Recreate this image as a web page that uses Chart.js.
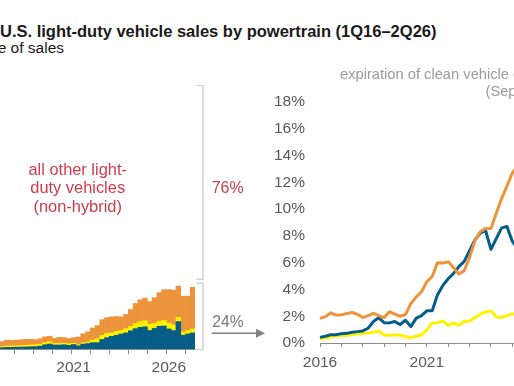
<!DOCTYPE html>
<html>
<head>
<meta charset="utf-8">
<script src="https://cdn.jsdelivr.net/npm/chart.js@4/dist/chart.umd.min.js"></script>
<style>
  html, body { margin:0; padding:0; background:#fff; }
  body { width:514px; height:386px; overflow:hidden; position:relative; font-family:"Liberation Sans", Arial, sans-serif; }
  canvas { position:absolute; }
  .t { position:absolute; white-space:nowrap; line-height:1; }
</style>
</head>
<body>
<canvas id="left" width="280" height="294" style="left:-5px;top:85px;width:280px;height:294px"></canvas>
<canvas id="right" width="279" height="283" style="left:260px;top:90px;width:279px;height:283px"></canvas>

<div class="t" style="left:0;top:22.7px;font-size:16.5px;font-weight:bold;color:#1a1a1a">U.S. light-duty vehicle sales by powertrain (1Q16–2Q26)</div>
<div class="t" style="right:450px;top:39.6px;font-size:15.5px;color:#1a1a1a">share of sales</div>
<div class="t" style="left:340px;top:66.6px;font-size:14.7px;color:#9a9a9a">expiration of clean vehicle credits</div>
<div class="t" style="left:485.5px;top:84.3px;font-size:14.7px;color:#9a9a9a">(September 30, 2025)</div>

<script>
// ---- data (quarterly, 1Q16 .. 2Q26) ----
const quarters = [];
for (let yr = 2016; yr <= 2026; yr++) for (let q = 1; q <= 4; q++) {
  if (yr === 2026 && q > 2) break;
  quarters.push(q + 'Q' + String(yr).slice(2));
}
// battery electric vehicles (%)
const bev = [0.42,0.5,0.62,0.62,0.7,0.72,0.8,0.85,0.9,1.1,1.6,1.88,1.52,1.5,1.6,1.38,1.7,1.22,1.84,2.05,
             2.4,2.4,3.6,4.3,4.8,5.2,5.7,6.1,6.9,7.7,8.2,8.4,7.0,7.8,8.6,8.7,7.6,7.0,10.4,5.2,5.7,6.1];
// plug-in hybrid electric vehicles (%)
const phev = [0.32,0.37,0.45,0.55,0.55,0.58,0.62,0.67,0.72,0.75,0.8,0.9,0.6,0.57,0.6,0.6,0.48,0.4,0.5,0.62,
              0.97,1.5,1.52,1.65,1.3,1.5,1.32,1.6,1.65,1.9,2.15,2.33,2.4,1.95,1.92,2.05,2.18,2.1,1.6,1.2,1.3,1.5];
// hybrid electric vehicles (%)
const hev = [1.84,1.97,2.25,2.09,2.1,2.2,2.28,2.15,1.9,2.05,2.22,2.05,1.9,2.34,2.15,2.0,2.12,2.93,3.43,3.83,
             4.58,4.97,6.0,5.97,6.07,5.62,5.15,5.4,6.4,7.64,8.31,8.56,8.56,9.69,10.8,11.72,12.7,13.2,11.8,13.6,13.0,15.8];
// latest-quarter split shown by the brackets
const otherShare = 76;
const hybridShare = 24;
const rightTicks = [0,2,4,6,8,10,12,14,16,18];

const BLUE = '#065d87', YELLOW = '#fff200', ORANGE = '#ec943c';
const TICK_COLOR = '#595959', AXIS_COLOR = '#8c8c8c';
Chart.defaults.font.family = '"Liberation Sans", Arial, sans-serif';
Chart.defaults.animation = false;

const leftNotes = {
  id: 'leftNotes',
  afterDraw(chart) {
    const {ctx, chartArea: a, scales: {y}} = chart;
    const y0 = y.getPixelForValue(0), yh = y.getPixelForValue(hybridShare), yt = y.getPixelForValue(100);
    const bx = a.right + 8;
    ctx.save();
    ctx.strokeStyle = '#d2d2d2'; ctx.lineWidth = 1.5;
    ctx.beginPath();
    ctx.moveTo(bx - 6.5, yt + 0.5); ctx.lineTo(bx, yt + 0.5); ctx.lineTo(bx, yh - 6.5); ctx.lineTo(bx - 6.5, yh - 6.5);
    ctx.stroke();
    ctx.beginPath();
    ctx.moveTo(bx - 6.5, yh - 2.5); ctx.lineTo(bx, yh - 2.5); ctx.lineTo(bx, y0 + 0.5); ctx.lineTo(bx - 6.5, y0 + 0.5);
    ctx.stroke();
    ctx.textAlign = 'center'; ctx.textBaseline = 'alphabetic';
    ctx.fillStyle = '#cd3c4b';
    ctx.font = '16px "Liberation Sans", Arial, sans-serif';
    const mid = (yt + yh) / 2;
    ctx.fillText(otherShare + '%', bx + 24.7, mid + 8);
    ctx.font = '16.4px "Liberation Sans", Arial, sans-serif';
    const cx = a.left + 82.7;
    ctx.fillText('all other light-', cx, mid + 8 - 18.3);
    ctx.fillText('duty vehicles', cx, mid + 8);
    ctx.fillText('(non-hybrid)', cx, mid + 8 + 18.3);
    ctx.fillStyle = '#7a7a7a';
    ctx.font = '15.7px "Liberation Sans", Arial, sans-serif';
    ctx.fillText(hybridShare + '%', bx + 25, (yh + y0) / 2 + 10);
    const ay = (yh + y0) / 2 + 16;
    ctx.strokeStyle = '#808080'; ctx.lineWidth = 1.5;
    ctx.beginPath(); ctx.moveTo(bx + 8.7, ay); ctx.lineTo(bx + 55, ay); ctx.stroke();
    ctx.fillStyle = '#808080';
    ctx.beginPath(); ctx.moveTo(bx + 62, ay); ctx.lineTo(bx + 53, ay - 4.5); ctx.lineTo(bx + 53, ay + 4.5); ctx.closePath(); ctx.fill();
    ctx.restore();
  }
};

new Chart(document.getElementById('left'), {
  type: 'bar',
  data: {
    labels: quarters,
    datasets: [
      {label: 'BEV', data: bev, backgroundColor: BLUE},
      {label: 'PHEV', data: phev, backgroundColor: YELLOW},
      {label: 'HEV', data: hev, backgroundColor: ORANGE}
    ]
  },
  options: {
    responsive: false, maintainAspectRatio: false,
    layout: {padding: {top: 0, left: 0, right: 80, bottom: 0}},
    datasets: {bar: {barPercentage: 1, categoryPercentage: 1, borderWidth: 0}},
    plugins: {legend: {display: false}, tooltip: {enabled: false}},
    scales: {
      x: {
        stacked: true,
        grid: {display: true, drawOnChartArea: false, offset: true, tickLength: 5,
               color: c => (c.index % 4 === 0 && c.index > 0 && c.index < quarters.length) ? AXIS_COLOR : 'rgba(0,0,0,0)'},
        border: {display: true, color: AXIS_COLOR, width: 1},
        ticks: {autoSkip: false, maxRotation: 0, minRotation: 0, padding: 4.5, color: TICK_COLOR, font: {size: 15.5},
                callback: (v, i) => (i % 20 === 16) ? String(2017 + Math.floor(i / 4)) : ''},
        afterFit: s => { s.height = 30; s.paddingLeft = 0; s.paddingRight = 0; }
      },
      y: {stacked: true, display: false, min: 0, max: 100}
    }
  },
  plugins: [leftNotes]
});

new Chart(document.getElementById('right'), {
  type: 'line',
  data: {
    labels: quarters,
    datasets: [
      {label: 'HEV', data: hev, borderColor: ORANGE},
      {label: 'BEV', data: bev, borderColor: BLUE},
      {label: 'PHEV', data: phev, borderColor: YELLOW}
    ]
  },
  options: {
    responsive: false, maintainAspectRatio: false,
    layout: {padding: {top: 12, left: 0, right: 0, bottom: 0}},
    datasets: {line: {borderWidth: 3, pointRadius: 0, tension: 0, fill: false, borderJoinStyle: 'round'}},
    plugins: {legend: {display: false}, tooltip: {enabled: false}},
    scales: {
      x: {
        type: 'category', offset: false,
        grid: {display: true, drawOnChartArea: false, tickLength: 4,
               color: c => (c.index % 4 === 0) ? AXIS_COLOR : 'rgba(0,0,0,0)'},
        border: {display: true, color: AXIS_COLOR, width: 1},
        ticks: {autoSkip: false, maxRotation: 0, minRotation: 0, padding: 6.5, color: TICK_COLOR, font: {size: 15.5},
                callback: (v, i) => (i % 20 === 0) ? String(2016 + i / 4) : ''},
        afterFit: s => { s.height = 30; s.paddingLeft = 0; s.paddingRight = 0; }
      },
      y: {
        min: 0, max: 18,
        afterBuildTicks: s => { s.ticks = rightTicks.map(v => ({value: v})); },
        grid: {display: false, drawTicks: false},
        border: {display: false},
        ticks: {padding: 15, color: TICK_COLOR, font: {size: 15.5}, callback: v => v + '%'},
        afterFit: s => { s.width = 60; s.paddingTop = 0; s.paddingBottom = 0; }
      }
    }
  }
});
</script>
</body>
</html>
